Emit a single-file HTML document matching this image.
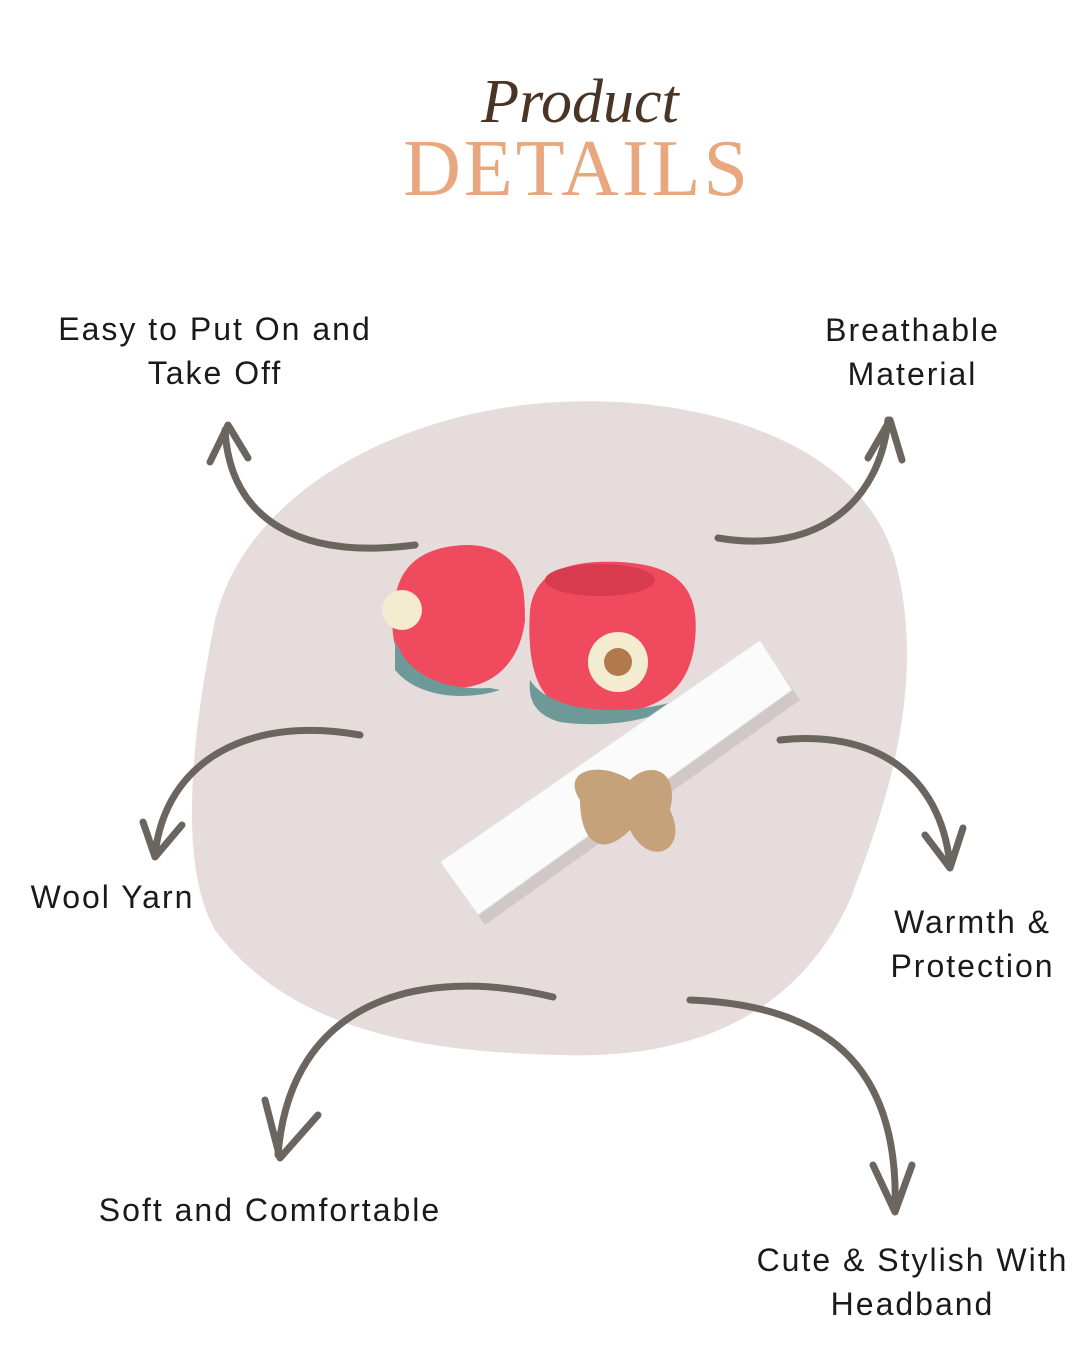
<!DOCTYPE html>
<html><head><style>
body{margin:0;width:1080px;height:1350px;background:#fff;position:relative;overflow:hidden;font-family:"Liberation Sans",sans-serif}
.t{position:absolute;font-size:32px;color:#1a1a1a;text-align:center;line-height:44px;letter-spacing:2px;white-space:nowrap}
</style></head><body>
<svg width="1080" height="1350" style="position:absolute;left:0;top:0">
<path d="M560,402 C700,395 860,440 895,560 C930,690 880,820 850,900 C800,1010 700,1060 560,1055 C420,1052 290,1030 215,930 C175,860 195,720 215,620 C250,480 420,408 560,402Z" fill="#e6dcdb"/>
<text x="580" y="122" font-family="Liberation Serif,serif" font-style="italic" font-size="62" fill="#4a3426" text-anchor="middle">Product</text>
<text x="577" y="195" font-family="Liberation Serif,serif" font-size="80" fill="#e8a77e" text-anchor="middle" letter-spacing="3">DETAILS</text>
<g fill="none" stroke="#6b6560" stroke-width="7" stroke-linecap="round" stroke-linejoin="round">
<path d="M415,545 C300,560 230,520 225,430"/><path d="M210,462 L228,425 L248,458"/>
<path d="M718,538 C820,555 880,500 888,420"/><path d="M868,458 L890,420 L902,460"/>
<path d="M360,735 C250,715 165,760 155,855"/><path d="M143,822 L155,857 L182,825"/>
<path d="M780,740 C870,730 940,770 950,865"/><path d="M925,835 L950,868 L963,828"/>
<path d="M553,997 C420,965 290,1000 278,1155"/><path d="M265,1100 L280,1158 L318,1115"/>
<path d="M690,1000 C820,1005 900,1060 895,1210"/><path d="M873,1165 L895,1212 L912,1165"/>
</g>
<path d="M395,600 C400,560 430,545 470,545 C520,548 525,580 525,620 C520,665 490,690 450,688 C405,685 385,650 395,600Z" fill="#ef4a5e"/>
<path d="M395,640 C410,680 450,690 490,688 L500,690 C470,700 420,700 395,670Z" fill="#6d9a98"/>
<path d="M530,610 C535,570 570,560 620,562 C680,565 700,590 695,640 C690,690 660,712 600,715 C550,716 525,690 530,610Z" fill="#ef4a5e"/>
<path d="M530,680 C550,712 620,718 680,700 C660,722 600,728 560,722 C535,715 528,700 530,680Z" fill="#6d9a98"/>
<ellipse cx="600" cy="580" rx="55" ry="16" fill="#d83a4e"/>
<circle cx="618" cy="662" r="30" fill="#f3ecd0"/><circle cx="618" cy="662" r="14" fill="#b07a4c"/>
<circle cx="402" cy="610" r="20" fill="#f3ecd0"/>
<polygon points="445,870 765,648 800,700 485,925" fill="#cfc8c6"/>
<polygon points="440,862 760,640 792,690 478,915" fill="#fbfbfb" stroke="#e2e2e2"/>
<path d="M580,800 C560,770 600,760 630,780 C650,760 680,770 670,810 C690,850 650,870 630,830 C600,860 580,840 580,800Z" fill="#c5a27a"/>
</svg>
<div class="t" style="left:40px;top:307px;width:350px">Easy to Put On and<br>Take Off</div>
<div class="t" style="left:800px;top:308px;width:225px">Breathable<br>Material</div>
<div class="t" style="left:20px;top:875px;width:185px">Wool Yarn</div>
<div class="t" style="left:880px;top:900px;width:185px">Warmth &amp;<br>Protection</div>
<div class="t" style="left:80px;top:1188px;width:380px">Soft and Comfortable</div>
<div class="t" style="left:745px;top:1238px;width:335px">Cute &amp; Stylish With<br>Headband</div>
</body></html>
